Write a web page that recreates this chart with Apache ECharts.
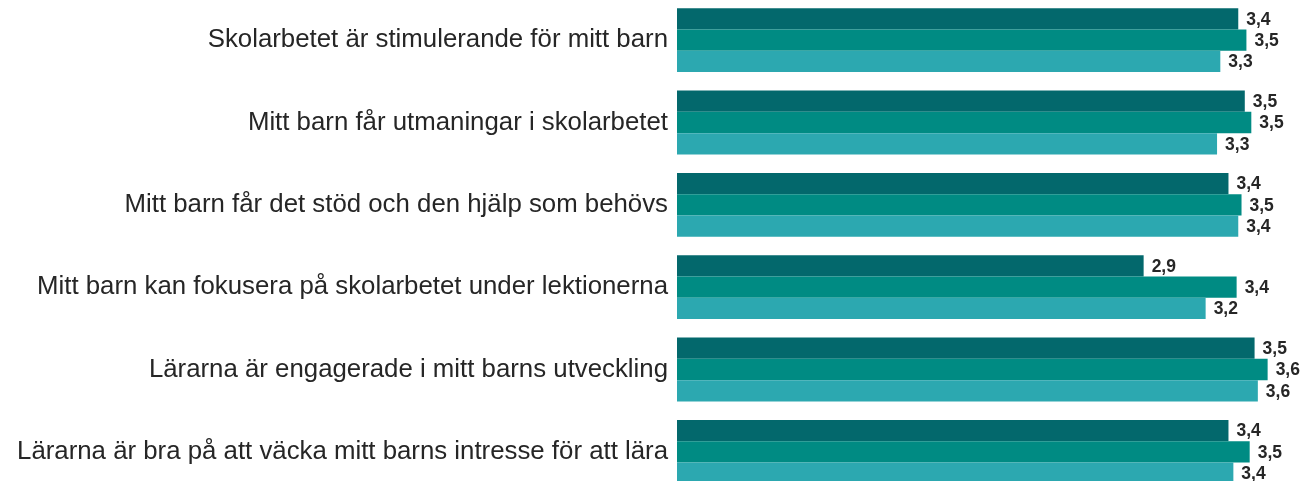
<!DOCTYPE html>
<html>
<head>
<meta charset="utf-8">
<script src="https://cdn.jsdelivr.net/npm/echarts@6/dist/echarts.min.js"></script>
<style>html,body{margin:0;padding:0;background:#fff;}#c{width:1303px;height:481px;}</style>
</head>
<body>
<div id="c"></div>
<script>
const categories = [
  'Skolarbetet är stimulerande för mitt barn',
  'Mitt barn får utmaningar i skolarbetet',
  'Mitt barn får det stöd och den hjälp som behövs',
  'Mitt barn kan fokusera på skolarbetet under lektionerna',
  'Lärarna är engagerade i mitt barns utveckling',
  'Lärarna är bra på att väcka mitt barns intresse för att lära'
];
const series1 = [3.44, 3.48, 3.38, 2.86, 3.54, 3.38];
const series2 = [3.49, 3.52, 3.46, 3.43, 3.62, 3.51];
const series3 = [3.33, 3.31, 3.44, 3.24, 3.56, 3.41];
const colors = ['#03686C', '#008B83', '#2CA8B0'];

const chart = echarts.init(document.getElementById('c'), null, {renderer: 'canvas'});
const fmt = p => p.value.toFixed(1).replace('.', ',');
const mk = (data, i) => ({
  type: 'bar',
  data: data,
  barWidth: 21.3,
  barGap: '0%',
  itemStyle: {color: colors[i]},
  label: {
    show: true, position: 'right', distance: 8, offset: [0, 1],
    formatter: fmt,
    fontFamily: 'Liberation Sans, Arial, sans-serif',
    fontWeight: 'bold', fontSize: 17.5, color: '#262626'
  },
  animation: false
});
chart.setOption({
  animation: false,
  grid: {left: 677, width: 620, top: -1, height: 494, containLabel: false, outerBoundsMode: 'none'},
  xAxis: {type: 'value', min: 0, max: 3.8, show: false},
  yAxis: {
    type: 'category', data: categories, inverse: true,
    axisLine: {show: false}, axisTick: {show: false},
    axisLabel: {
      margin: 9, fontSize: 25.8, color: '#262626',
      fontFamily: 'Liberation Sans, Arial, sans-serif'
    }
  },
  series: [mk(series1, 0), mk(series2, 1), mk(series3, 2)]
});
</script>
</body>
</html>
